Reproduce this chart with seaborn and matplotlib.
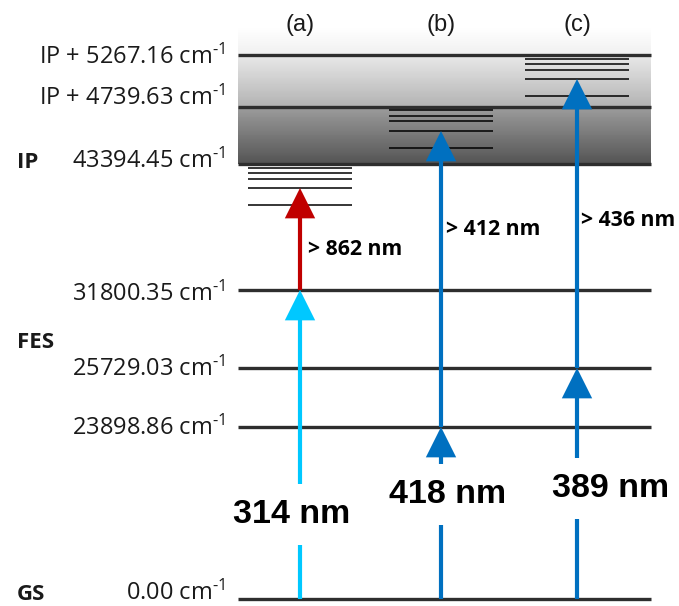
import numpy as np
import matplotlib
matplotlib.use("Agg")
import matplotlib.pyplot as plt
import seaborn as sns
from matplotlib.patches import FancyArrowPatch, ArrowStyle

sns.set_theme(style="white")
plt.rcParams["font.family"] = ["Open Sans", "DejaVu Sans"]
plt.rcParams["mathtext.fontset"] = "custom"
plt.rcParams["mathtext.rm"] = "Open Sans"
plt.rcParams["mathtext.it"] = "Open Sans:italic"
plt.rcParams["mathtext.bf"] = "Open Sans:bold"

# ---------------------------------------------------------------- data
gs_energy = 0.00                                  # cm^-1
fes_energies = [23898.86, 25729.03, 31800.35]     # first excited states, cm^-1
ip_energy = 43394.45                              # ionization potential, cm^-1
ip_offsets = [4739.63, 5267.16]                   # levels above the IP, cm^-1

schemes = ["(a)", "(b)", "(c)"]
first_step_nm = [314, 418, 389]
first_step_level = [31800.35, 23898.86, 25729.03]
second_step_nm = [862, 412, 436]

# Rydberg / autoionizing states reached by the second step, cm^-1
states_a = [43026, 42566, 42014, 41186, 39622]
states_b = [47885, 47386, 46970, 46139, 44725]
states_c = [48621, 48570, 48509, 48418, 48246]
scheme_states = [states_a, states_b, states_c]
target_state = 3

first_colors = ["#00C8FF", "#0070C0", "#0070C0"]
second_colors = ["#C00000", "#0070C0", "#0070C0"]

# ---------------------------------------------------------------- layout
W, H = 679, 606
level_E = [gs_energy, *fes_energies, ip_energy,
           ip_energy + ip_offsets[0], ip_energy + ip_offsets[1]]
level_h = [7, 179, 238, 316, 442, 499, 551]        # drawing height (px from bottom)
anchor_E = [level_E[0] - 972.0, *level_E, level_E[-1] + 558.0]
anchor_h = [0, *level_h, H]


def forward(e):
    return np.interp(e, anchor_E, anchor_h)


def inverse(h):
    return np.interp(h, anchor_h, anchor_E)


X0, X1 = 238, 651                 # horizontal extent of the level lines
col_x = [300, 441, 577]           # arrow column positions
half = 52                         # half width of the state ladders

fig = plt.figure(figsize=(W / 100, H / 100), dpi=100)
ax = fig.add_axes([0, 0, 1, 1])
ax.set_xlim(0, W)
ax.set_yscale("function", functions=(forward, inverse))
ax.set_ylim(anchor_E[0], anchor_E[-1])
ax.axis("off")


def at(px, py):
    return px / W, 1 - py / H


# grey continuum band above the IP
band_top = ip_energy + ip_offsets[1] + 274
segments = [
    (ip_energy, ip_energy + ip_offsets[0], 0.33, 0.61),
    (ip_energy + ip_offsets[0], ip_energy + ip_offsets[1], 0.70, 0.91),
    (ip_energy + ip_offsets[1], band_top, 0.94, 0.995),
]
for lo, hi, g0, g1 in segments:
    n = 60
    ye = np.linspace(lo, hi, n + 1)
    xe = np.array([X0, X1])
    shade = np.linspace(g0, g1, n).reshape(n, 1)
    ax.pcolormesh(xe, ye, shade, cmap="gray", vmin=0, vmax=1,
                  shading="flat", zorder=1)

# energy levels
ax.hlines(level_E, X0, X1, color="#2e2e2e", lw=2.4, zorder=3)

# state ladders
for x, states in zip(col_x, scheme_states):
    ax.hlines(states, x - half, x + half, color="black", lw=1.1, zorder=3)

style = ArrowStyle("-|>", head_length=17, head_width=8.5)


def arrow(x, e0, e1, color):
    ax.add_patch(FancyArrowPatch((x, e0), (x, e1), arrowstyle=style,
                                 mutation_scale=1, color=color, lw=3.0,
                                 shrinkA=0, shrinkB=0, zorder=4,
                                 joinstyle="miter", capstyle="butt"))


for x, lvl, states, c1, c2 in zip(col_x, first_step_level, scheme_states,
                                  first_colors, second_colors):
    arrow(x, gs_energy, lvl, c1)
    arrow(x, lvl, states[target_state], c2)

# first-step wavelength labels (white box opens a gap in the shaft)
big_pos = [(292, 523), (448, 503), (611, 497)]
for (px, py), nm in zip(big_pos, first_step_nm):
    ax.text(*at(px, py), f"{nm} nm", transform=ax.transAxes,
            ha="center", va="baseline", fontsize=24.5, fontweight="bold",
            family=["Liberation Sans", "DejaVu Sans"], color="black",
            bbox=dict(boxstyle="square,pad=0.45", fc="white", ec="none"),
            zorder=5)

# second-step threshold labels
small_pos = [(308, 255), (446, 235), (581, 226)]
for (px, py), nm in zip(small_pos, second_step_nm):
    ax.text(*at(px, py), f"> {nm} nm", transform=ax.transAxes,
            ha="left", va="baseline", fontsize=15.3, fontweight="bold",
            color="black", zorder=5)

# scheme headers
for x, name in zip(col_x, schemes):
    ax.text(*at(x, 25), name, transform=ax.transAxes, ha="center",
            va="center", fontsize=17, color="#1a1a1a",
            family=["Liberation Sans", "DejaVu Sans"])

# level energy labels
unit = r" cm$^{\text{-}1}$"
level_text = [f"{e:.2f}{unit}" for e in level_E[:5]]
level_text += [f"IP + {o:.2f}{unit}" for o in ip_offsets]
label_base = [600, 435, 376, 301, 168, 105, 64]
for txt, py in zip(level_text, label_base):
    ax.text(*at(225, py), txt, transform=ax.transAxes, ha="right",
            va="baseline", fontsize=17, color="#1a1a1a")

# group names
for txt, py in zip(["GS", "FES", "IP"], [600, 348, 168]):
    ax.text(*at(17, py), txt, transform=ax.transAxes, ha="left",
            va="baseline", fontsize=16, fontweight="bold", color="#1a1a1a")

fig.savefig("out.png", dpi=100)
